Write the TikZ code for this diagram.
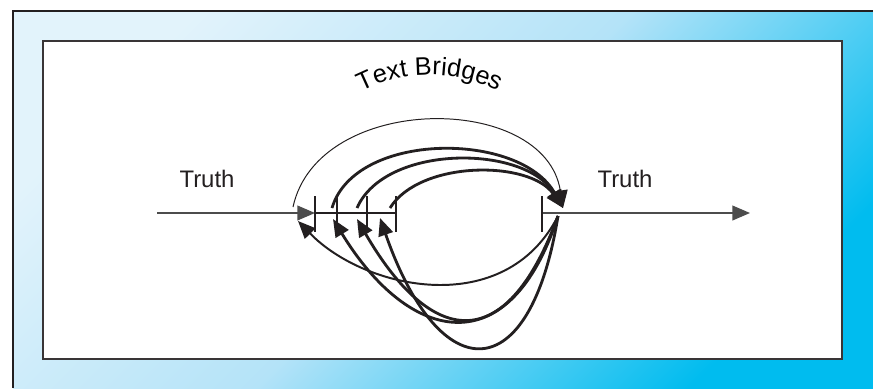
\documentclass[tikz,border=0pt]{standalone}
\usepackage{fontspec}
\setmainfont{Liberation Sans}
\usetikzlibrary{arrows.meta,decorations.text}
\definecolor{skyL}{RGB}{226,243,251}
\definecolor{skyM}{RGB}{180,227,248}
\definecolor{skyR}{RGB}{0,188,239}
\definecolor{ink}{RGB}{35,31,32}
\tikzset{
  frame/.style  ={draw=ink, line width=2pt},
  panel/.style  ={draw=ink!90, fill=white, line width=1.5pt},
  truth/.style  ={font=\fontsize{17}{20}\selectfont, text=ink},
  tline/.style  ={draw=black!70, line width=1pt},
  seg/.style    ={draw=ink, line width=1.6pt},
  tick/.style   ={draw=ink, line width=1.4pt},
  head/.style   ={-{Triangle[length=12.5pt,width=10.5pt]}},
  thinbr/.style ={head, draw=ink, line width=0.7pt},
  backbr/.style ={head, draw=ink, line width=1.4pt},
  bridge/.style ={head, draw=ink, line width=2pt},
}

\begin{document}
\begin{tikzpicture}[x=0.025cm, y=-0.025cm]
  \useasboundingbox (0,0) rectangle (873,388);
  % ---- shaded outer frame and white panel
  \shade[left color=skyL, right color=skyR, middle color=skyM,
         shading angle=45] (13,11) rectangle (873,388);
  \draw[frame] (13,388) -- (13,11) -- (873,11);
  \draw[panel] (43,41) rectangle (842,359);
  % ---- labels
  \node[truth] (tleft)  at (207,179) {Truth};
  \node[truth] (tright) at (625,179) {Truth};
  \path[decorate, decoration={text along path, text align=center,
        text={|\fontsize{18}{21}\selectfont|Text Bridges}}]
    (350,98) .. controls (398,67) and (462,67) .. (510,98);
  % ---- the truth line and its stops
  \coordinate (s)  at (157,213);
  \coordinate (t1) at (315,213);
  \coordinate (t2) at (337,213);
  \coordinate (t3) at (367,213);
  \coordinate (t4) at (396,213);
  \coordinate (tr) at (542,213);
  \coordinate (e)  at (750,213);
  \draw[tline, head] (s) -- (t1);
  \draw[seg] (t1) -- (t4);
  \draw[tline, head] (tr) -- (e);
  \foreach \t in {t1,t2,t3,t4,tr}
    \draw[tick] (\t) +(0,-17) -- +(0,19);
  % ---- bridges over the gap
  \coordinate (hit) at (563,208);
  \coordinate (u1)  at (293,207);
  \coordinate (u2)  at (332,208);
  \coordinate (u3)  at (357,208);
  \coordinate (u4)  at (390,208);
  \draw[thinbr] (u1) .. controls (318,92)  and (545,92)  .. (hit);
  \draw[bridge] (u2) .. controls (355,131) and (520,131) .. (hit);
  \draw[bridge] (u3) .. controls (385,144) and (525,144) .. (hit);
  \draw[bridge] (u4) .. controls (420,160) and (530,160) .. (hit);
  % ---- bridges back under the gap
  \coordinate (src) at (558,216);
  \coordinate (l0)  at (298,221);
  \coordinate (l1)  at (333,219);
  \coordinate (l2)  at (357,219);
  \coordinate (l3)  at (380,218);
  \draw[backbr] (src) .. controls (505,320) and (365,290) .. (l0);
  \draw[bridge] (src) .. controls (510,365) and (410,345) .. (l1);
  \draw[bridge] (src) .. controls (505,360) and (430,345) .. (l2);
  \draw[bridge] (src) .. controls (530,390) and (440,390) .. (l3);
\end{tikzpicture}
\end{document}
